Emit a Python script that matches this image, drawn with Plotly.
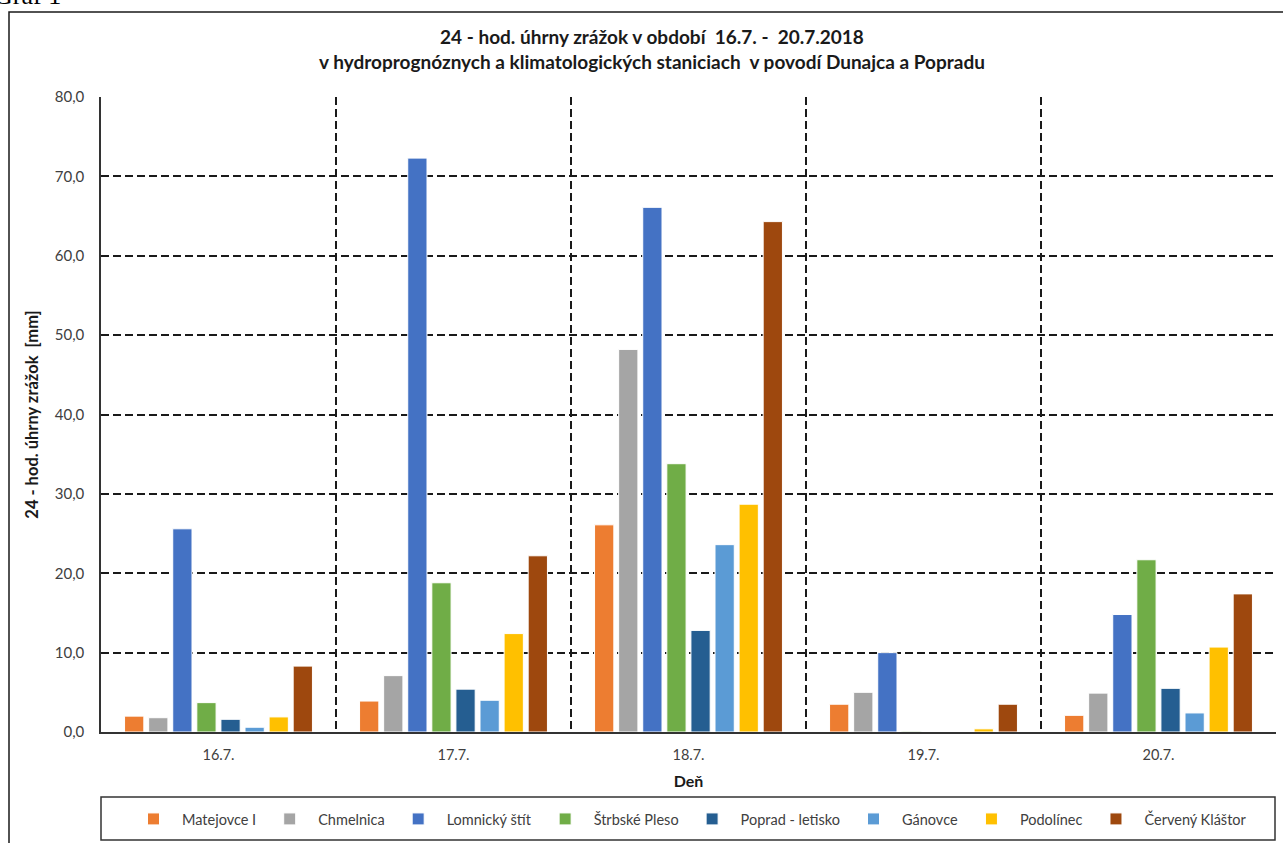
import plotly.graph_objects as go

days = ["16.7.", "17.7.", "18.7.", "19.7.", "20.7."]
stations = ["Matejovce I", "Chmelnica", "Lomnický štít", "Štrbské Pleso",
            "Poprad - letisko", "Gánovce", "Podolínec", "Červený Kláštor"]
matejovce = [2.0, 3.9, 26.1, 3.5, 2.1]
chmelnica = [1.8, 7.1, 48.2, 5.0, 4.9]
lomnicky = [25.6, 72.3, 66.1, 10.0, 14.8]
strbske = [3.7, 18.8, 33.8, 0.1, 21.7]
poprad = [1.6, 5.4, 12.8, 0.0, 5.5]
ganovce = [0.6, 4.0, 23.6, 0.0, 2.4]
podolinec = [1.9, 12.4, 28.7, 0.4, 10.7]
cerveny = [8.3, 22.2, 64.3, 3.5, 17.4]
series = [matejovce, chmelnica, lomnicky, strbske, poprad, ganovce, podolinec, cerveny]
colors = ["#ED7D31", "#A5A5A5", "#4472C4", "#70AD47",
          "#255E91", "#5B9BD5", "#FFC000", "#9E480E"]
y_ticks = [0, 10, 20, 30, 40, 50, 60, 70, 80]

FONT = "Lato, Carlito, Calibri, sans-serif"

fig = go.Figure()
for name, vals, col in zip(stations, series, colors):
    fig.add_trace(go.Bar(
        x=days, y=vals, name=name,
        marker=dict(color=col, line=dict(color="white", width=1)),
    ))

W, H = 1283, 843
L, R, T, B = 101, 7, 97, 111
pw, ph = W - L - R, H - T - B


def px(xp):
    return (xp - L) / pw


def py(yp):
    return (H - B - yp) / ph


grid_dash = "8px,4px"
fig.update_layout(
    width=W, height=H,
    margin=dict(l=L, r=R, t=T, b=B),
    paper_bgcolor="white", plot_bgcolor="white",
    separators=", ",
    font=dict(family=FONT, size=14.5, color="#404040"),
    barmode="group", bargap=0.18, bargroupgap=0.2,
    title=dict(
        text="<b>24 - hod. úhrny zrážok v období  16.7. -  20.7.2018<br>"
             "v hydroprognóznych a klimatologických staniciach  v povodí Dunajca a Popradu</b>",
        x=652 / W, xref="container", xanchor="center",
        y=1 - 44 / H, yref="container", yanchor="top",
        font=dict(family=FONT, size=19, color="#1a1a1a"),
    ),
    xaxis=dict(
        type="category", tickson="boundaries", ticks="", ticklen=0,
        showgrid=True, gridcolor="#1a1a1a", gridwidth=1.5, griddash=grid_dash,
        showline=True, linecolor="#333333", linewidth=1.5,
        ticklabelstandoff=9,
        tickfont=dict(size=14.5, color="#404040"),
        title=dict(text="<b>Deň</b>", font=dict(size=16, color="#1a1a1a"), standoff=14),
    ),
    yaxis=dict(
        range=[0, 80], tickvals=y_ticks, tickformat=".1f",
        showgrid=True, gridcolor="#1a1a1a", gridwidth=1.5, griddash=grid_dash,
        zeroline=False,
        showline=True, linecolor="#333333", linewidth=1.5,
        ticks="", ticklabelstandoff=12,
        tickfont=dict(size=15, color="#404040"),
        title=dict(text="<b>24 - hod. úhrny zrážok  [mm]</b>",
                   font=dict(size=16.5, color="#1a1a1a"), standoff=12),
    ),
    legend=dict(
        orientation="h", x=0.5, xanchor="center",
        y=py(819), yanchor="middle",
        itemwidth=47,
        font=dict(family=FONT, size=14.5, color="#404040"),
        bgcolor="rgba(0,0,0,0)", traceorder="normal",
    ),
    shapes=[
        dict(type="rect", xref="paper", yref="paper",
             x0=px(9), x1=px(1300), y0=py(860), y1=py(12),
             line=dict(color="#1a1a1a", width=1.5), fillcolor="rgba(0,0,0,0)",
             layer="below"),
        dict(type="rect", xref="paper", yref="paper",
             x0=px(101), x1=px(1275), y0=py(840), y1=py(797),
             line=dict(color="#333333", width=1.5), fillcolor="rgba(0,0,0,0)"),
    ],
    annotations=[
        dict(text="Graf 1", xref="paper", yref="paper",
             x=px(-8), y=py(12), xanchor="left", yanchor="bottom",
             showarrow=False,
             font=dict(family="Liberation Serif, Times New Roman, serif", size=26,
                       color="black")),
    ],
)

fig.write_html("out.html")
